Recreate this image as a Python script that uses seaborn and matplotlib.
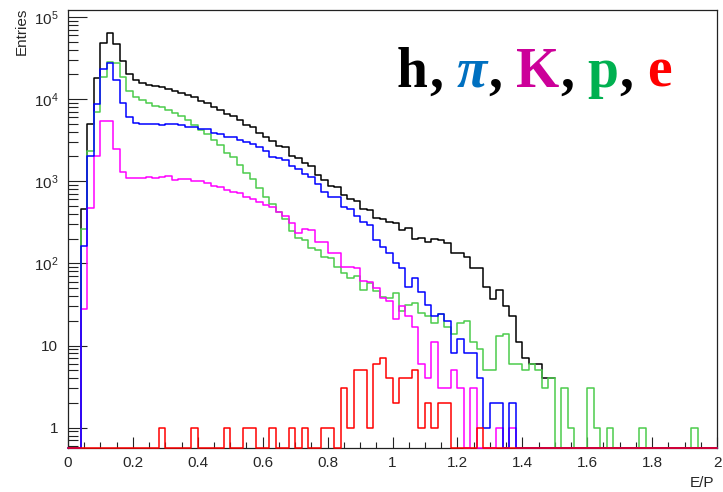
import numpy as np
import pandas as pd
import matplotlib
matplotlib.use("Agg")
import matplotlib.pyplot as plt
import seaborn as sns
from matplotlib.ticker import FixedLocator, LogLocator, MultipleLocator, NullFormatter, FixedFormatter

# ---------------- data (100 bins of E/P from 0 to 2) ----------------
bin_lo, bin_hi, n_bins = 0.0, 2.0, 100

h_counts = [0, 0, 458, 4960, 17800, 48000, 63000, 47000, 29300, 20000,
            17000, 15500, 14800, 14300, 13900, 13400, 12600, 11900, 11200, 10500,
            9550, 8860, 8070, 7350, 6570, 6210, 5550, 4830, 4520, 3890,
            3480, 3110, 2680, 2630, 2020, 1900, 1650, 1545, 1180, 1030,
            873, 841, 679, 610, 570, 458, 446, 353, 343, 321,
            307, 255, 267, 196, 201, 180, 196, 194, 175, 132,
            132, 120, 87, 87, 52, 37, 48, 30, 23, 11,
            7, 6, 6, 4, 4, 0, 0, 0, 0, 0,
            0, 0, 0, 0, 0, 0, 0, 0, 0, 0,
            0, 0, 0, 0, 0, 0, 0, 0, 0, 0]

pi_counts = [0, 0, 161, 2040, 8600, 22900, 27200, 17000, 8850, 6100,
             5150, 4960, 4960, 4960, 4830, 4960, 4960, 4830, 4600, 4520,
             4270, 4270, 3890, 3750, 3480, 3480, 3170, 3030, 2835, 2630,
             2350, 1990, 1900, 1810, 1530, 1390, 1210, 1135, 920, 745,
             648, 635, 489, 454, 377, 321, 293, 192, 157, 132,
             100, 87, 52, 66, 45, 31, 23, 24, 20, 8,
             12, 8, 8, 4, 1, 2, 2, 0, 2, 0,
             0, 0, 0, 0, 0, 0, 0, 0, 0, 0,
             0, 0, 0, 0, 0, 0, 0, 0, 0, 0,
             0, 0, 0, 0, 0, 0, 0, 0, 0, 0]

K_counts = [0, 0, 28, 467, 2045, 5450, 5450, 2460, 1290, 1105,
            1105, 1083, 1113, 1083, 1135, 1155, 1033, 1072, 1072, 1005,
            1005, 942, 881, 857, 780, 745, 724, 636, 601, 563,
            513, 489, 425, 378, 313, 232, 264, 255, 184, 184,
            132, 132, 89, 89, 87, 61, 60, 50, 38, 35,
            21, 30, 23, 17, 6, 4, 11, 3, 3, 5,
            3, 0, 3, 0, 0, 0, 1, 0, 1, 0,
            0, 0, 0, 0, 0, 0, 0, 0, 0, 0,
            0, 0, 0, 0, 0, 0, 0, 0, 0, 0,
            0, 0, 0, 0, 0, 0, 0, 0, 0, 0]

p_counts = [0, 0, 262, 2330, 7000, 18700, 28500, 27700, 18700, 12600,
            10700, 9720, 8850, 8220, 7920, 7350, 6700, 6210, 5550, 4760,
            4200, 3750, 3170, 2755, 2180, 1990, 1590, 1245, 1065, 830,
            636, 527, 425, 345, 250, 201, 192, 155, 145, 120,
            115, 91, 77, 66, 71, 48, 58, 46, 39, 38,
            44, 26, 31, 33, 25, 23, 19, 24, 17, 14,
            19, 20, 11, 9, 5, 5, 13, 14, 6, 6,
            5, 6, 5, 3, 4, 0, 3, 1, 0, 0,
            3, 1, 0, 1, 0, 0, 0, 0, 1, 0,
            0, 0, 0, 0, 0, 0, 1, 0, 0, 0]

e_counts = [0, 0, 0, 0, 0, 0, 0, 0, 0, 0,
            0, 0, 0, 0, 1, 0, 0, 0, 0, 1,
            0, 0, 0, 0, 1, 0, 0, 1, 1, 0,
            0, 1, 0, 0, 1, 0, 1, 0, 0, 1,
            1, 0, 3, 1, 5, 5, 1, 6, 7, 4,
            2, 4, 4, 5, 1, 2, 1, 2, 2, 0,
            0, 0, 0, 1, 0, 0, 0, 0, 0, 0,
            0, 0, 0, 0, 0, 0, 0, 0, 0, 0,
            0, 0, 0, 0, 0, 0, 0, 0, 0, 0,
            0, 0, 0, 0, 0, 0, 0, 0, 0, 0]

particles = ["h", "p", "K", "pi", "e"]          # drawing order
line_colors = {"h": "#000000", "p": "#4CCC4C", "K": "#FF00FF",
               "pi": "#0000FF", "e": "#FF0000"}
# the h outline is hidden under the p outline past its last filled bin
stop_at_last_bin = {"h": True, "p": False, "K": False, "pi": False, "e": False}

x_ticks = [0, 0.2, 0.4, 0.6, 0.8, 1.0, 1.2, 1.4, 1.6, 1.8, 2.0]
x_tick_labels = ["0", "0.2", "0.4", "0.6", "0.8", "1", "1.2", "1.4", "1.6", "1.8", "2"]
y_ticks = [1, 10, 1e2, 1e3, 1e4, 1e5]
y_tick_labels = ["1", "10", r"$10^{2}$", r"$10^{3}$", r"$10^{4}$", r"$10^{5}$"]

title_pieces = [("h", "#000000", "normal"), (",", "#000000", "normal"),
                ("π", "#0070C0", "italic"), (",", "#000000", "normal"),
                ("K", "#CC0099", "normal"), (",", "#000000", "normal"),
                ("p", "#00B050", "normal"), (",", "#000000", "normal"),
                ("e", "#FF0000", "normal")]

# ---------------- style ----------------
sns.set_theme(style="ticks")
plt.rcParams["font.family"] = ["Liberation Sans", "DejaVu Sans"]
plt.rcParams["mathtext.fontset"] = "custom"
plt.rcParams["mathtext.rm"] = "Liberation Sans"
plt.rcParams["mathtext.it"] = "Liberation Sans:italic"
plt.rcParams["mathtext.bf"] = "Liberation Sans:bold"

W, H = 723, 492
fig = plt.figure(figsize=(W / 100, H / 100), dpi=100)
ax_l, ax_r, ax_t, ax_b = 68, 717, 10, 448
ax = fig.add_axes([ax_l / W, 1 - ax_b / H, (ax_r - ax_l) / W, (ax_b - ax_t) / H])

y_min, y_max = 0.566, 1.21e5
edges = np.linspace(bin_lo, bin_hi, n_bins + 1)
series = {"h": h_counts, "pi": pi_counts, "K": K_counts, "p": p_counts, "e": e_counts}
frames = []
for name in particles:
    vals = np.asarray(series[name], dtype=float)
    n_draw = n_bins
    if stop_at_last_bin[name]:
        n_draw = int(np.nonzero(vals)[0].max()) + 1
    vals = vals[:n_draw]
    vals = np.where(vals > 0, vals, y_min)        # empty bins drawn on the frame floor (ROOT style)
    frames.append(pd.DataFrame({"E/P": edges[:n_draw + 1],
                                "Entries": np.append(vals, vals[-1]),
                                "particle": name}))
df = pd.concat(frames, ignore_index=True)

ax.set_yscale("log")
sns.lineplot(data=df, x="E/P", y="Entries", hue="particle", hue_order=particles,
             palette=line_colors, estimator=None, sort=False, drawstyle="steps-post",
             linewidth=1.1, legend=False, ax=ax, clip_on=False, zorder=3)

ax.set_xlim(bin_lo, bin_hi)
ax.set_ylim(y_min, y_max)
ax.set_xlabel("")
ax.set_ylabel("")

ax.xaxis.set_major_locator(FixedLocator(x_ticks))
ax.xaxis.set_major_formatter(FixedFormatter(x_tick_labels))
ax.xaxis.set_minor_locator(MultipleLocator(0.05))
ax.yaxis.set_major_locator(FixedLocator(y_ticks))
ax.yaxis.set_major_formatter(FixedFormatter(y_tick_labels))
ax.yaxis.set_minor_locator(LogLocator(base=10, subs=range(2, 10), numticks=20))
ax.yaxis.set_minor_formatter(NullFormatter())

ax.tick_params(axis="x", which="major", direction="in", length=8, width=0.8,
               labelsize=11, pad=6, color="#222222")
ax.tick_params(axis="x", which="minor", direction="in", length=4.5, width=0.8, color="#222222")
ax.tick_params(axis="y", which="major", direction="in", length=14, width=0.8,
               labelsize=11, pad=7, color="#222222")
ax.tick_params(axis="y", which="minor", direction="in", length=7, width=0.8, color="#222222")
ax.tick_params(top=False, right=False, which="both")

for s in ax.spines.values():
    s.set_visible(True)
    s.set_linewidth(0.9)
    s.set_color("#222222")
ax.set_facecolor("white")
ax.grid(False)

fig.text(714 / W, 1 - 483 / H, "E/P", ha="right", va="center", fontsize=11)
fig.text(22 / W, 1 - 8 / H, "Entries", ha="center", va="top", rotation=90, fontsize=11)

# multicoloured particle list
renderer = fig.canvas.get_renderer()
fs = 40
gap_px = 0.25 * fs * 100 / 72
x_px = 397
base_y = 1 - 86.7 / H
for txt, col, sty in title_pieces:
    t = fig.text(x_px / W, base_y, txt, color=col, fontsize=fs, fontweight="bold",
                 fontstyle=sty, family=["Liberation Serif", "DejaVu Serif"],
                 ha="left", va="baseline")
    bb = t.get_window_extent(renderer)
    x_px = bb.x1 + (gap_px if txt == "," else 1)

fig.savefig("out.png", dpi=100)
